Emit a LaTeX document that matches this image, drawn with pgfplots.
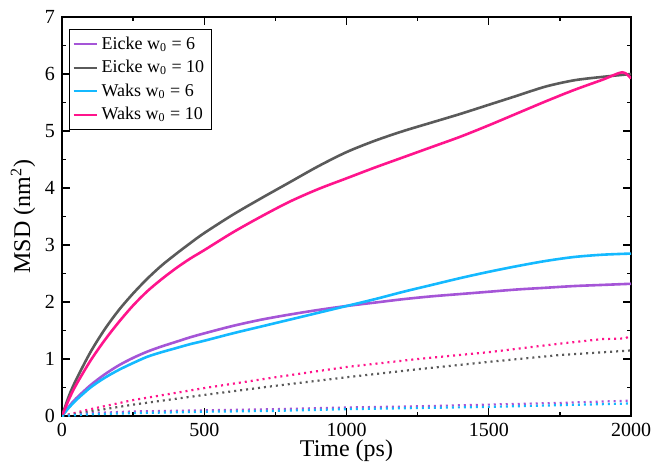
\documentclass[border=0pt]{standalone}
\usepackage{pgfplots}
\pgfplotsset{compat=1.18}
\usepackage{fontspec}
\setmainfont{Liberation Serif}
\definecolor{cpurple}{RGB}{165,85,215}
\definecolor{cgray}{RGB}{90,90,90}
\definecolor{ccyan}{RGB}{20,185,255}
\definecolor{cpink}{RGB}{255,20,140}
\begin{document}
\begin{tikzpicture}
\begin{axis}[
  scale only axis,
  width=284.5pt, height=199.5pt,
  xmin=0, xmax=2000, ymin=0, ymax=7,
  xtick={0,500,1000,1500,2000},
  ytick={0,1,2,3,4,5,6,7},
  minor x tick num=1, minor y tick num=1,
  tick align=inside,
  major tick length=4pt, minor tick length=2pt,
  axis line style={line width=0.9pt},
  tick style={line width=0.7pt, black},
  every tick label/.append style={font=\fontsize{10}{12}\selectfont},
  /pgf/number format/assume math mode=true,
  /pgf/number format/1000 sep={},
  xlabel={Time (ps)}, ylabel={MSD (nm\textsuperscript{2})},
  label style={font=\fontsize{12}{14}\selectfont},
  xlabel style={yshift=5pt}, ylabel style={yshift=-2pt},
  legend style={at={(rel axis cs:0.0123,0.97)}, anchor=north west,
    font=\fontsize{9}{12}\selectfont, draw=black, line width=0.6pt,
    inner sep=1.5pt, row sep=0pt},
  legend cell align=left,
  legend image code/.code={\draw[#1, line width=1pt] (0pt,0pt) -- (11.5pt,0pt);},
  clip=true,
]
% solid curves
\addplot[cpurple, line width=1.3pt, smooth] coordinates {(0,0) (25,0.17) (50,0.31) (100,0.54) (150,0.73) (200,0.89) (250,1.02) (300,1.13) (350,1.22) (400,1.3) (450,1.38) (500,1.45) (600,1.58) (700,1.69) (800,1.78) (900,1.86) (1000,1.93) (1100,1.99) (1200,2.05) (1300,2.1) (1400,2.14) (1500,2.18) (1600,2.22) (1700,2.25) (1800,2.28) (1900,2.3) (2000,2.32)};
\addlegendentry{Eicke w\textsubscript{0} = 6}
\addplot[cgray, line width=1.3pt, smooth] coordinates {(0,0) (25,0.36) (50,0.64) (100,1.12) (150,1.52) (200,1.86) (250,2.15) (300,2.41) (350,2.64) (400,2.84) (450,3.03) (500,3.21) (600,3.53) (700,3.82) (800,4.1) (900,4.38) (1000,4.63) (1100,4.83) (1200,5.0) (1300,5.15) (1400,5.3) (1500,5.46) (1600,5.62) (1700,5.78) (1800,5.89) (1900,5.95) (2000,6.0)};
\addlegendentry{Eicke w\textsubscript{0} = 10}
\addplot[ccyan, line width=1.3pt, smooth] coordinates {(0,0) (25,0.15) (50,0.28) (100,0.5) (150,0.67) (200,0.81) (250,0.93) (300,1.04) (350,1.12) (400,1.19) (450,1.26) (500,1.32) (600,1.45) (700,1.57) (800,1.69) (900,1.81) (1000,1.93) (1100,2.05) (1200,2.18) (1300,2.3) (1400,2.42) (1500,2.53) (1600,2.63) (1700,2.72) (1800,2.79) (1900,2.83) (2000,2.85)};
\addlegendentry{Waks w\textsubscript{0} = 6}
\addplot[cpink, line width=1.3pt, smooth] coordinates {(0,0) (25,0.3) (50,0.55) (100,0.97) (150,1.33) (200,1.65) (250,1.94) (300,2.19) (350,2.4) (400,2.59) (450,2.76) (500,2.91) (600,3.22) (700,3.5) (800,3.76) (900,3.98) (1000,4.17) (1100,4.36) (1200,4.54) (1300,4.72) (1400,4.9) (1500,5.1) (1600,5.31) (1700,5.52) (1800,5.72) (1900,5.9) (1970,6.03) (2000,5.92)};
\addlegendentry{Waks w\textsubscript{0} = 10}
% dotted curves
\addplot[cpink, line width=1.1pt, dash pattern=on 1pt off 2pt, forget plot] coordinates {(0,0) (100,0.12) (250,0.28) (500,0.49) (750,0.68) (1000,0.86) (1250,1.0) (1500,1.12) (1750,1.27) (1900,1.35) (1980,1.36) (2000,1.42)};
\addplot[cgray, line width=1.1pt, dash pattern=on 1pt off 2pt, forget plot] coordinates {(0,0) (100,0.08) (250,0.2) (500,0.37) (750,0.53) (1000,0.68) (1250,0.82) (1500,0.95) (1750,1.07) (2000,1.15)};
\addplot[cpurple, line width=1.1pt, dash pattern=on 1pt off 2pt, forget plot] coordinates {(0,0) (100,0.05) (250,0.08) (500,0.1) (750,0.12) (1000,0.15) (1250,0.17) (1500,0.2) (1750,0.23) (2000,0.27)};
\addplot[ccyan, line width=1.1pt, dash pattern=on 1pt off 2pt, forget plot] coordinates {(0,0) (100,0.03) (250,0.05) (500,0.075) (750,0.09) (1000,0.12) (1250,0.14) (1500,0.16) (1750,0.19) (2000,0.22)};
\end{axis}
\pgfresetboundingbox
\useasboundingbox (-31pt,-23.5pt) rectangle (295pt,208pt);
\end{tikzpicture}
\end{document}
